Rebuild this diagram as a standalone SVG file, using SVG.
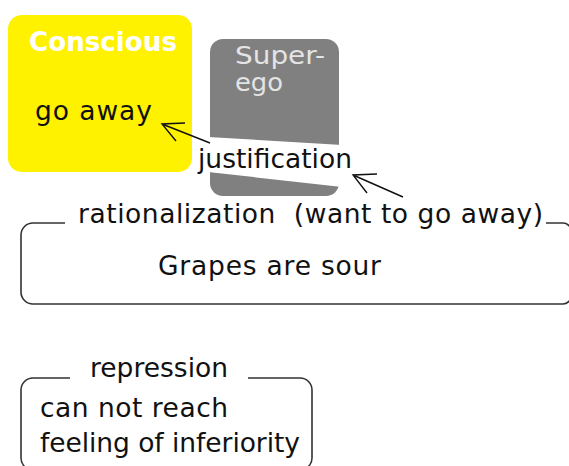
<svg xmlns="http://www.w3.org/2000/svg" width="569" height="466" viewBox="0 0 569 466">
  <style>
    text { font-family: "DejaVu Sans", Verdana, sans-serif; font-size: 26.5px; fill: #111; white-space: pre; }
    .title { font-weight: bold; fill: #ffffff; }
    .light { fill: #e4e4e4; font-size: 25px; }
    .frame { fill: none; stroke: #333; stroke-width: 1.6; }
    .conn { fill: none; stroke: #111; stroke-width: 1.4; }
  </style>
  <rect width="569" height="466" fill="#ffffff"/>

  <g id="conscious">
    <rect x="8" y="15" width="184" height="157" rx="14" ry="14" fill="#fff200"/>
    <text class="title" x="29" y="51" textLength="148" lengthAdjust="spacingAndGlyphs">Conscious</text>
    <text x="35" y="120" textLength="117" lengthAdjust="spacing">go away</text>
  </g>

  <g id="superego">
    <rect x="210" y="39" width="129" height="157" rx="13" ry="13" fill="#808080"/>
    <text class="light" x="235" y="64" textLength="90" lengthAdjust="spacingAndGlyphs">Super-</text>
    <text class="light" x="235" y="91" textLength="48" lengthAdjust="spacingAndGlyphs">ego</text>
  </g>

  <g id="justification">
    <polygon points="208,137 342,145 342,187 208,172" fill="#ffffff"/>
    <text x="198" y="168" textLength="154" lengthAdjust="spacing">justification</text>
  </g>

  <g id="rationalization">
    <path class="frame" d="M65,223 H33 A12,12 0 0 0 21,235 V292 A12,12 0 0 0 33,304 H563 A8,8 0 0 0 571,296 V231 A8,8 0 0 0 563,223 H546"/>
    <text x="78" y="223" textLength="465" lengthAdjust="spacing">rationalization  (want to go away)</text>
    <text x="158" y="275" textLength="223" lengthAdjust="spacing">Grapes are sour</text>
  </g>

  <g id="repression">
    <path class="frame" d="M70,378 H33 A12,12 0 0 0 21,390 V458 A12,12 0 0 0 33,470 H300 A12,12 0 0 0 312,458 V390 A12,12 0 0 0 300,378 H248"/>
    <text x="90" y="377" textLength="138" lengthAdjust="spacing">repression</text>
    <text x="40" y="417" textLength="188" lengthAdjust="spacing">can not reach</text>
    <text x="40" y="452" textLength="260" lengthAdjust="spacing">feeling of inferiority</text>
  </g>

  <g id="connectors">
    <path class="conn" d="M210,143 L162,124 M185,123 L162,124 L176,141"/>
    <path class="conn" d="M403,197 L353,175 M377,174 L353,175 L367,193"/>
  </g>
</svg>
